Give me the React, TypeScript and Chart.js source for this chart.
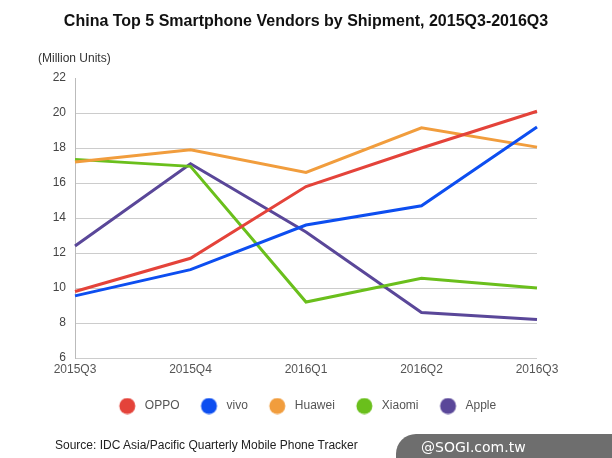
import React, { useEffect, useRef } from "react";
import { Chart, registerables } from "chart.js";

Chart.register(...registerables);

const categories = ["2015Q3", "2015Q4", "2016Q1", "2016Q2", "2016Q3"];
const seriesNames = ["OPPO", "vivo", "Huawei", "Xiaomi", "Apple"];
const oppo = [9.8, 11.7, 15.8, 18.0, 20.1];
const vivo = [9.55, 11.05, 13.6, 14.7, 19.2];
const huawei = [17.2, 17.9, 16.6, 19.15, 18.05];
const xiaomi = [17.35, 16.95, 9.2, 10.55, 10.0];
const apple = [12.4, 17.1, 13.2, 8.6, 8.2];
const seriesColors = ["#e4433a", "#0d4ef0", "#f19d3d", "#6abf1c", "#5a4799"];
const yMin = 6;
const yMax = 22;
const yStep = 2;

const titleText = "China Top 5 Smartphone Vendors by Shipment, 2015Q3-2016Q3";
const unitText = "(Million Units)";
const sourceText = "Source: IDC Asia/Pacific Quarterly Mobile Phone Tracker";
const watermarkText = "@SOGI.com.tw";

const FONT = "'Liberation Sans', Arial, Helvetica, sans-serif";

function makeLegendDot(color: string): HTMLCanvasElement {
  const c = document.createElement("canvas");
  c.width = 23;
  c.height = 17;
  const ctx = c.getContext("2d");
  if (ctx) {
    ctx.fillStyle = color;
    ctx.beginPath();
    ctx.arc(11.5, 8.5, 8, 0, Math.PI * 2);
    ctx.fill();
  }
  return c;
}

export default function App() {
  const canvasRef = useRef<HTMLCanvasElement | null>(null);

  useEffect(() => {
    const canvas = canvasRef.current;
    if (!canvas) return;
    const values = [oppo, vivo, huawei, xiaomi, apple];
    const dots = seriesColors.map((c) => makeLegendDot(c));
    const chart = new Chart(canvas, {
      type: "line",
      data: {
        labels: categories,
        datasets: seriesNames.map((name, i) => ({
          label: name,
          data: values[i],
          borderColor: seriesColors[i],
          backgroundColor: seriesColors[i],
          borderWidth: 3,
          pointRadius: 0,
          pointHoverRadius: 0,
          tension: 0,
          yAxisID: "y",
        })),
      },
      options: {
        responsive: false,
        animation: false,
        devicePixelRatio: 1,
        layout: { padding: { left: 0, right: 0, top: 0, bottom: 36 } },
        plugins: {
          title: {
            display: true,
            text: titleText,
            color: "#111111",
            font: { family: FONT, size: 16, weight: "bold" },
            padding: { top: 12, bottom: 46.8 },
          },
          legend: {
            display: true,
            position: "bottom",
            labels: {
              usePointStyle: true,
              pointStyleWidth: 23,
              boxHeight: 12,
              padding: 18,
              color: "#555555",
              font: { family: FONT, size: 12 },
              generateLabels: (ch: any) =>
                Chart.defaults.plugins.legend.labels
                  .generateLabels(ch)
                  .map((l: any, i: number) => ({
                    ...l,
                    lineWidth: 0,
                    pointStyle: dots[i],
                  })),
            },
          },
          tooltip: { enabled: false },
        },
        scales: {
          x: {
            type: "category",
            offset: false,
            grid: { display: false, drawTicks: false },
            border: { display: false },
            ticks: {
              color: "#555555",
              font: { family: FONT, size: 12 },
              padding: 4,
              maxRotation: 0,
              autoSkip: false,
            },
            afterFit: (scale: any) => {
              scale.height = 24;
            },
          },
          y: {
            position: "left",
            min: yMin,
            max: yMax,
            ticks: {
              stepSize: yStep,
              color: "#444444",
              font: { family: FONT, size: 12 },
              padding: 9,
            },
            grid: {
              drawTicks: false,
              color: (ctx: any) =>
                ctx.tick && ctx.tick.value === yMax ? "rgba(0,0,0,0)" : "#cccccc",
              lineWidth: 1,
            },
            border: { display: true, color: "#bbbbbb", width: 1 },
            afterFit: (scale: any) => {
              scale.width = 75;
            },
          },
          yRight: {
            position: "right",
            display: true,
            min: yMin,
            max: yMax,
            ticks: { display: false },
            grid: { display: false, drawTicks: false },
            border: { display: false },
            afterFit: (scale: any) => {
              scale.width = 75;
            },
          },
        },
      },
    });
    return () => chart.destroy();
  }, []);

  return (
    <div
      style={{
        position: "absolute",
        left: 0,
        top: 0,
        width: 612,
        height: 458,
        background: "#ffffff",
        overflow: "hidden",
        fontFamily: FONT,
      }}
    >
      <canvas ref={canvasRef} width={612} height={458} style={{ display: "block" }} />
      <div
        style={{
          position: "absolute",
          left: 38,
          top: 51,
          fontSize: 12,
          color: "#333333",
          lineHeight: "14px",
        }}
      >
        {unitText}
      </div>
      <div
        style={{
          position: "absolute",
          left: 55,
          top: 438,
          fontSize: 12,
          color: "#222222",
          lineHeight: "14px",
          whiteSpace: "nowrap",
        }}
      >
        {sourceText}
      </div>
      <div
        style={{
          position: "absolute",
          left: 396,
          top: 434,
          width: 216,
          height: 24,
          background: "#6e6e6e",
          borderTopLeftRadius: 20,
          color: "#ffffff",
          fontFamily: "'DejaVu Sans', sans-serif",
          fontSize: 14,
          lineHeight: "26px",
          paddingLeft: 25,
          boxSizing: "border-box",
          whiteSpace: "nowrap",
        }}
      >
        {watermarkText}
      </div>
    </div>
  );
}
